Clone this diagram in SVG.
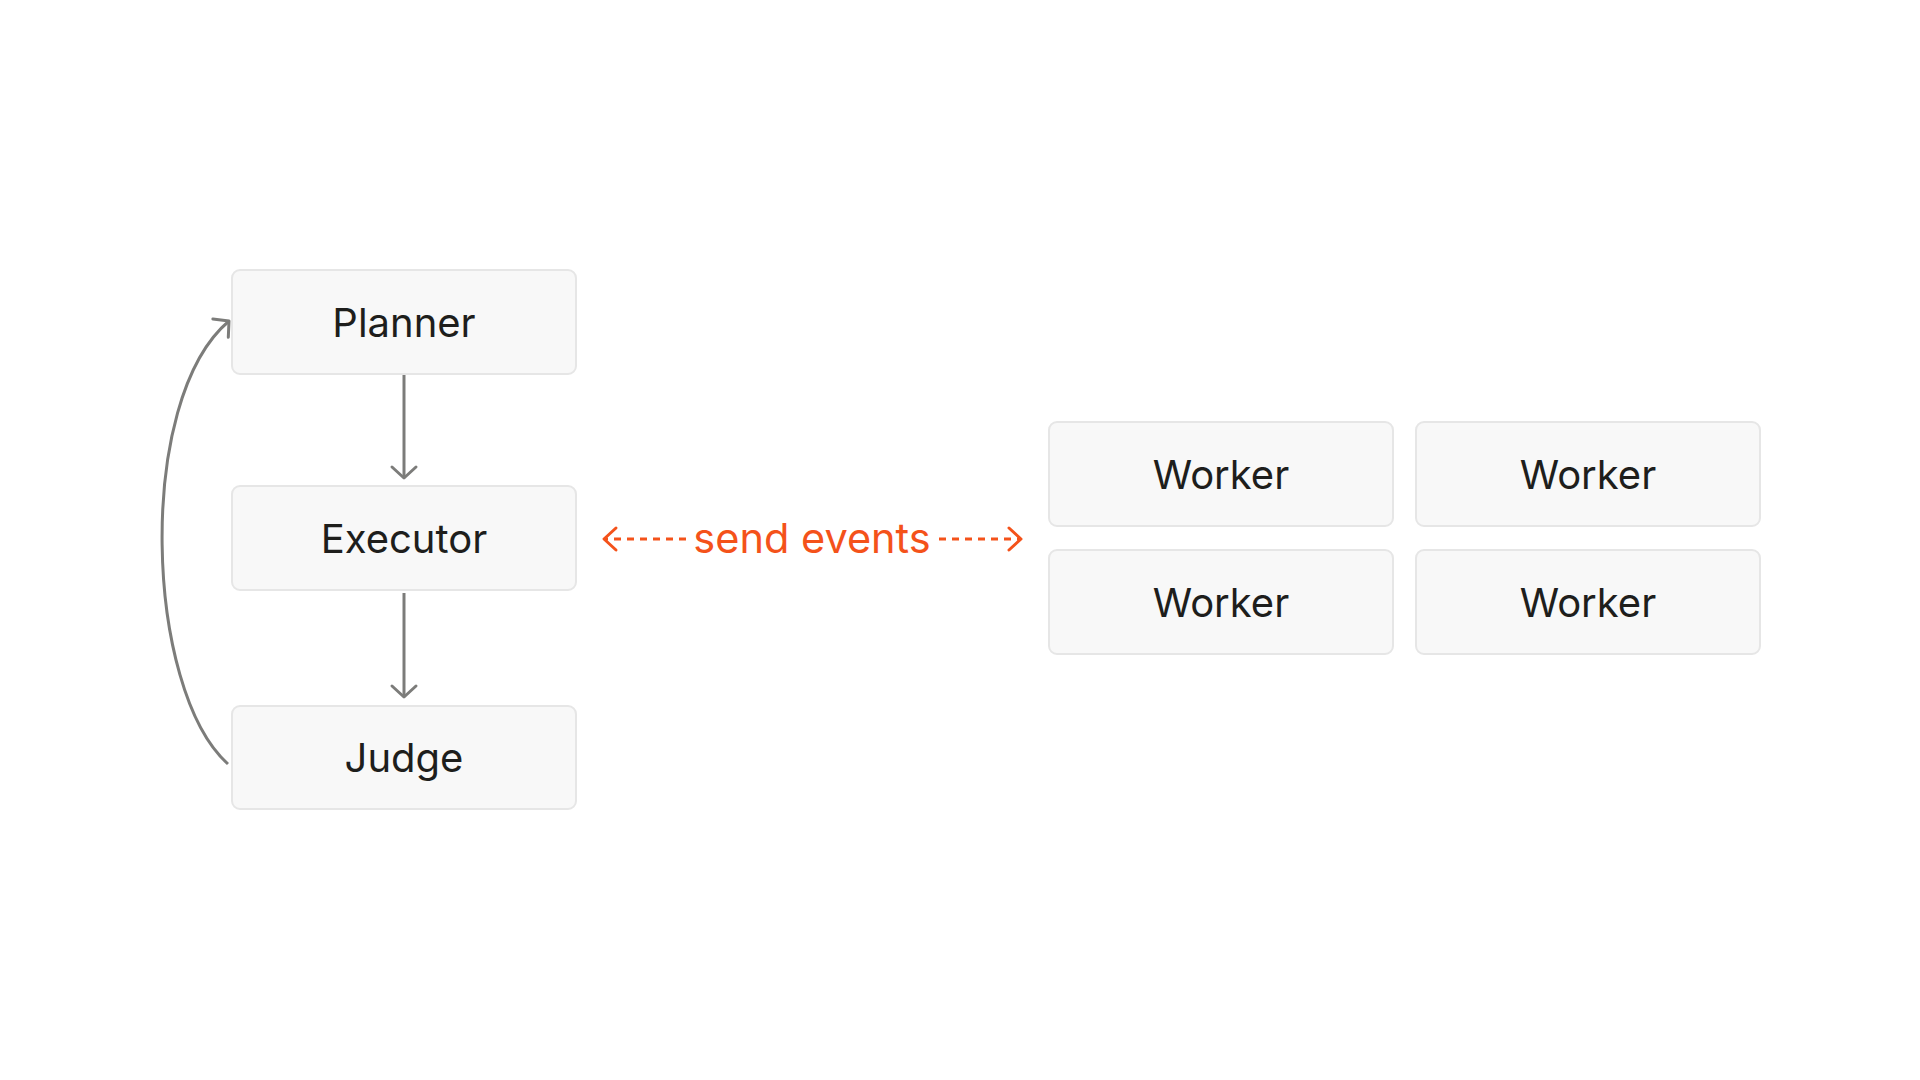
<svg xmlns="http://www.w3.org/2000/svg" width="1920" height="1080" viewBox="0 0 1920 1080">
<defs>
<style>
.box{fill:#F8F8F8;stroke:#E6E6E6;stroke-width:2}
.lbl{font-family:Inter,"Liberation Sans",sans-serif;font-size:40px;fill:#1E1E1C;text-anchor:middle}
.conn{fill:none;stroke:#7C7C7A;stroke-width:3}
.evt{fill:none;stroke:#F4521A;stroke-width:3;stroke-dasharray:7 6}
.evtlbl{font-family:Inter,"Liberation Sans",sans-serif;font-size:41.5px;fill:#F4521A;text-anchor:middle}
</style>
<marker id="ah" markerUnits="userSpaceOnUse" markerWidth="30" markerHeight="30" viewBox="-15 -15 30 30" refX="0" refY="0" orient="auto">
<path d="M-11,-12 L0,0 L-11,12" fill="none" stroke="#7C7C7A" stroke-width="3" stroke-linecap="round" stroke-linejoin="round"/>
</marker>
<marker id="ao" markerUnits="userSpaceOnUse" markerWidth="30" markerHeight="30" viewBox="-15 -15 30 30" refX="0" refY="0" orient="auto">
<path d="M-12,-11 L0,0 L-12,11" fill="none" stroke="#F4521A" stroke-width="3" stroke-linecap="round" stroke-linejoin="round"/>
</marker>
</defs>
<rect width="1920" height="1080" fill="#FFFFFF"/>
<g id="connectors">
<path class="conn" d="M404,375 L404,478" marker-end="url(#ah)"/>
<path class="conn" d="M404,593 L404,697" marker-end="url(#ah)"/>
<path class="conn" d="M228,764 C145,690 135,400 229,321" marker-end="url(#ah)"/>
<path class="evt" d="M686,539 L604,539" marker-end="url(#ao)"/>
<path class="evt" d="M939,539 L1021,539" marker-end="url(#ao)"/>
<text class="evtlbl" x="812" y="553">send events</text>
</g>
<g id="planner">
<rect class="box" x="232" y="270" width="344" height="104" rx="8"/>
<text class="lbl" x="404" y="337">Planner</text>
</g>
<g id="executor">
<rect class="box" x="232" y="486" width="344" height="104" rx="8"/>
<text class="lbl" x="404" y="553">Executor</text>
</g>
<g id="judge">
<rect class="box" x="232" y="706" width="344" height="103" rx="8"/>
<text class="lbl" x="404" y="772">Judge</text>
</g>
<g id="worker1">
<rect class="box" x="1049" y="422" width="344" height="104" rx="8"/>
<text class="lbl" x="1221" y="489">Worker</text>
</g>
<g id="worker2">
<rect class="box" x="1416" y="422" width="344" height="104" rx="8"/>
<text class="lbl" x="1588" y="489">Worker</text>
</g>
<g id="worker3">
<rect class="box" x="1049" y="550" width="344" height="104" rx="8"/>
<text class="lbl" x="1221" y="617">Worker</text>
</g>
<g id="worker4">
<rect class="box" x="1416" y="550" width="344" height="104" rx="8"/>
<text class="lbl" x="1588" y="617">Worker</text>
</g>
</svg>
